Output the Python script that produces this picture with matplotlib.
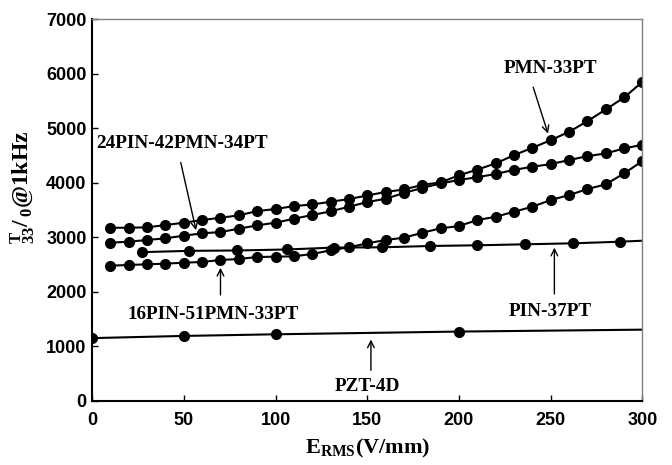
import matplotlib
matplotlib.use('Agg')
import matplotlib.pyplot as plt

plt.rcParams['mathtext.fontset'] = 'custom'
plt.rcParams['mathtext.rm'] = 'Liberation Serif:bold'
plt.rcParams['mathtext.bf'] = 'Liberation Serif:bold'
plt.rcParams['mathtext.it'] = 'Liberation Serif:bold'

# field steps for the dense series (V/mm)
e_dense = [10, 20, 30, 40, 50, 60, 70, 80, 90, 100, 110, 120, 130, 140, 150,
           160, 170, 180, 190, 200, 210, 220, 230, 240, 250, 260, 270, 280, 290, 300]

pmn_33pt = [3174, 3174, 3181, 3223, 3266, 3315, 3357, 3400, 3480, 3516,
            3571, 3600, 3650, 3700, 3765, 3830, 3875, 3960, 4005, 4135,
            4240, 4353, 4505, 4639, 4780, 4932, 5128, 5342, 5562, 5848]
pin24_pmn42_pt34 = [2900, 2918, 2949, 2980, 3028, 3071, 3095, 3156, 3218, 3266,
                    3339, 3407, 3474, 3559, 3645, 3705, 3810, 3905, 3985, 4050,
                    4100, 4160, 4235, 4292, 4341, 4414, 4487, 4536, 4628, 4695]
pin16_pmn51_pt33 = [2478, 2491, 2503, 2515, 2533, 2546, 2582, 2601, 2637, 2643,
                    2650, 2692, 2760, 2815, 2888, 2949, 2991, 3082, 3163, 3205,
                    3315, 3375, 3467, 3559, 3681, 3773, 3883, 3969, 4170, 4396]

e_pin37 = [27, 53, 79, 106, 132, 158, 184, 210, 236, 262, 288, 300]
pin_37pt = [2726, 2750, 2757, 2775, 2810, 2815, 2839, 2852, 2870, 2888, 2918, 2936]

e_pzt = [0, 50, 100, 200, 300]
pzt_4d = [1150, 1190, 1220, 1270, 1305]

label_font = dict(family='Liberation Serif', fontweight='bold', fontsize=13.8)

fig = plt.figure(figsize=(6.72, 4.65), dpi=100)
ax = fig.add_axes([0.137, 0.138, 0.819, 0.821])

line_kw = dict(color='black', lw=1.5, marker='o', ms=7)
ax.plot(e_dense, pmn_33pt, **line_kw)
ax.plot(e_dense, pin24_pmn42_pt34, **line_kw)
ax.plot(e_dense, pin16_pmn51_pt33, **line_kw)
ax.plot(e_pin37, pin_37pt, markevery=list(range(len(e_pin37) - 1)), **line_kw)
ax.plot(e_pzt, pzt_4d, markevery=[0, 1, 2, 3], **line_kw)

arrow = dict(arrowstyle='->', color='black', lw=1.0, mutation_scale=12)
ax.annotate('', xy=(249, 4850), xytext=(240, 5800), arrowprops=arrow)
ax.text(250, 6100, 'PMN-33PT', ha='center', va='center', **label_font)

ax.annotate('', xy=(57, 3080), xytext=(48, 4420), arrowprops=arrow)
ax.text(49, 4720, '24PIN-42PMN-34PT', ha='center', va='center', **label_font)

ax.annotate('', xy=(70, 2490), xytext=(70, 1890), arrowprops=arrow)
ax.text(66, 1590, '16PIN-51PMN-33PT', ha='center', va='center', **label_font)

ax.annotate('', xy=(252, 2860), xytext=(252, 1910), arrowprops=arrow)
ax.text(250, 1630, 'PIN-37PT', ha='center', va='center', **label_font)

ax.annotate('', xy=(152, 1175), xytext=(152, 510), arrowprops=arrow)
ax.text(150, 270, 'PZT-4D', ha='center', va='center', **label_font)

ax.set_xlim(0, 300)
ax.set_ylim(0, 7000)
ax.set_xticks(range(0, 301, 50))
ax.set_yticks(range(0, 7001, 1000))
ax.tick_params(direction='in', length=4, width=1)
ax.tick_params(axis='y', pad=4)
ax.tick_params(axis='x', pad=8)
for lab in ax.get_xticklabels() + ax.get_yticklabels():
    lab.set_family('Liberation Sans')
    lab.set_fontweight('bold')
    lab.set_fontsize(13)

ax.spines['left'].set_linewidth(1.5)
ax.spines['bottom'].set_linewidth(1.5)
ax.spines['top'].set_color('#808080')
ax.spines['right'].set_color('#808080')
ax.spines['top'].set_linewidth(1.0)
ax.spines['right'].set_linewidth(1.0)

ax.set_xlabel(r'E$_{\mathrm{RMS}}$(V/mm)', family='Liberation Serif',
              fontweight='bold', fontsize=16)
ax.set_ylabel(r'${}_{33}^{\mathrm{T}}/\,{}_{0}$@1kHz', family='Liberation Serif',
              fontweight='bold', fontsize=17)
ax.yaxis.set_label_coords(-0.1, 0.56)
ax.xaxis.set_label_coords(0.5, -0.095)

fig.savefig('out.png', dpi=100)
